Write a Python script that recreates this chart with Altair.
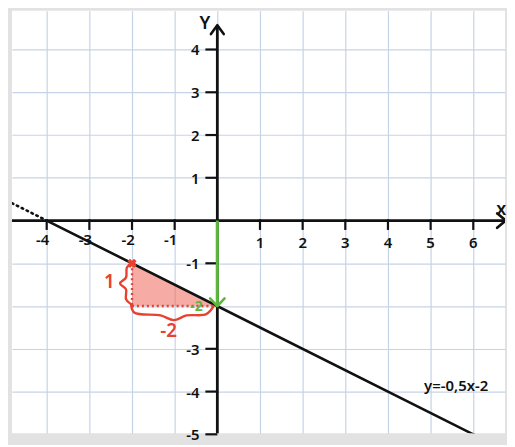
import altair as alt
import pandas as pd

# ---------------- data ----------------
X_DOMAIN = [-4.814, 6.744]
Y_DOMAIN = [-4.977, 4.907]

grid_x = list(range(-4, 7))
grid_y = list(range(-5, 5))

x_tick_values = [-4, -3, -2, -1, 1, 2, 3, 4, 5, 6]
y_tick_values = [4, 3, 2, 1, -1, -3, -4, -5]

# y = -0.5x - 2
line_solid_x = [-4, 6]
line_solid_y = [0, -5]
line_dot_left_x = [-4.814, -4]
line_dot_left_y = [0.407, 0]
line_dot_right_x = [6, 6.6]
line_dot_right_y = [-5, -5.3]
line_label = "y=-0,5x-2"

# slope triangle
tri_x = [-2, 0]
tri_top = [-1, -2]
tri_base = -2
point_A = (-2, -1)
rise_label = "1"
run_label = "-2"
intercept_label = "-2"

brace_left_x = [-2.0, -2.12, -2.14, -2.28, -2.14, -2.14, -2.02]
brace_left_y = [-0.99, -1.10, -1.33, -1.47, -1.61, -1.84, -1.96]
brace_bottom_x = [-2.02, -1.95, -1.33, -1.02, -0.72, -0.26, -0.09]
brace_bottom_y = [-1.98, -2.15, -2.22, -2.33, -2.22, -2.19, -2.01]

# axes furniture
x_axis_end = 6.74
y_axis_end = 4.55
x_arrow_x = [6.56, 6.76, 6.56]
x_arrow_y = [0.17, 0, -0.17]
y_arrow_x = [-0.15, 0, 0.15]
y_arrow_y = [4.36, 4.57, 4.36]
green_arrow_x = [-0.17, 0, 0.17]
green_arrow_y = [-1.82, -2, -1.82]

BLACK = "#111111"
RED = "#e8412f"
GREEN = "#5cb83c"
GRID = "#c6d3e6"
FONT = "Noto Sans"

# ---------------- scales ----------------
xs = alt.Scale(domain=X_DOMAIN, nice=False, zero=False)
ys = alt.Scale(domain=Y_DOMAIN, nice=False, zero=False)
x_axis = alt.Axis(values=grid_x, grid=True, gridColor=GRID, gridWidth=1.2,
                  labels=False, ticks=False, domain=False, title=None)
y_axis = alt.Axis(values=grid_y, grid=True, gridColor=GRID, gridWidth=1.2,
                  labels=False, ticks=False, domain=False, title=None)


def X(f="x"):
    return alt.X(f"{f}:Q", scale=xs, axis=x_axis)


def Y(f="y"):
    return alt.Y(f"{f}:Q", scale=ys, axis=y_axis)


def poly(xv, yv, width, color, dash=None, interp="linear"):
    df = pd.DataFrame({"x": xv, "y": yv, "o": list(range(len(xv)))})
    kw = dict(color=color, strokeWidth=width, interpolate=interp,
              strokeCap="round", strokeJoin="round", clip=True)
    if dash:
        kw["strokeDash"] = dash
    return alt.Chart(df).mark_line(**kw).encode(x=X(), y=Y(), order="o:Q")


# triangle fill
tri = alt.Chart(pd.DataFrame({"x": tri_x, "y": tri_top, "y2": [tri_base] * 2})).mark_area(
    color="#ee5a4a", opacity=0.5
).encode(x=X(), y=Y(), y2="y2:Q")

# axes
axes_rules = alt.Chart(pd.DataFrame({
    "x": [X_DOMAIN[0], 0], "x2": [x_axis_end, 0],
    "y": [0, Y_DOMAIN[0]], "y2": [0, y_axis_end],
})).mark_rule(color=BLACK, strokeWidth=2.8).encode(x=X(), x2="x2:Q", y=Y(), y2="y2:Q")
x_arrow = poly(x_arrow_x, x_arrow_y, 2.6, BLACK)
y_arrow = poly(y_arrow_x, y_arrow_y, 2.6, BLACK)

x_ticks = alt.Chart(pd.DataFrame({"x": x_tick_values})).mark_rule(
    color=BLACK, strokeWidth=2.2).encode(x=X(), y=alt.datum(0.03, scale=ys), y2=alt.datum(-0.22))
y_ticks = alt.Chart(pd.DataFrame({"y": y_tick_values})).mark_rule(
    color=BLACK, strokeWidth=2.2).encode(y=Y(), x=alt.datum(-0.28, scale=xs), x2=alt.datum(0))

neg_x = [v for v in x_tick_values if v < 0]
pos_x = [v for v in x_tick_values if v > 0]
x_lab_neg = alt.Chart(pd.DataFrame({"x": neg_x, "t": [str(v) for v in neg_x]})).mark_text(
    font=FONT, fontSize=15, fontWeight=600, color=BLACK, dx=-4, baseline="middle").encode(
    x=X(), y=alt.datum(-0.46, scale=ys), text="t:N")
x_lab_pos = alt.Chart(pd.DataFrame({"x": pos_x, "t": [str(v) for v in pos_x]})).mark_text(
    font=FONT, fontSize=15, fontWeight=600, color=BLACK, baseline="middle").encode(
    x=X(), y=alt.datum(-0.52, scale=ys), text="t:N")
y_lab = alt.Chart(pd.DataFrame({"y": y_tick_values, "t": [str(v) for v in y_tick_values]})).mark_text(
    font=FONT, fontSize=15, fontWeight=600, color=BLACK, align="right", baseline="middle", dy=1).encode(
    y=Y(), x=alt.datum(-0.42, scale=xs), text="t:N")

axis_titles = alt.Chart(pd.DataFrame({"x": [-0.28, 6.68], "y": [4.6, 0.24], "t": ["Y", "x"]})).mark_text(
    font=FONT, fontSize=18, fontWeight=600, color=BLACK, align="left", dx=-6).encode(
    x=X(), y=Y(), text="t:N")

# function line
line_solid = poly(line_solid_x, line_solid_y, 2.6, BLACK)
line_dl = poly(line_dot_left_x, line_dot_left_y, 2.6, BLACK, dash=[1.5, 4])
line_dr = poly(line_dot_right_x, line_dot_right_y, 2.6, BLACK, dash=[1.5, 4])
line_text = alt.Chart(pd.DataFrame({"x": [5.6], "y": [-3.86], "t": [line_label]})).mark_text(
    font=FONT, fontSize=15, fontWeight=600, color=BLACK).encode(x=X(), y=Y(), text="t:N")

# red annotations
red_dots = alt.Chart(pd.DataFrame({
    "x": [-2, -2], "x2": [-2, 0], "y": [-1, -2], "y2": [-2, -2]
})).mark_rule(color=RED, strokeWidth=2.4, strokeDash=[2, 3]).encode(
    x=X(), x2="x2:Q", y=Y(), y2="y2:Q")
red_cross = alt.Chart(pd.DataFrame({"x": [point_A[0]], "y": [point_A[1]]})).mark_point(
    shape="cross", angle=45, size=90, filled=True, color=RED, opacity=1).encode(x=X(), y=Y())
brace_l = poly(brace_left_x, brace_left_y, 2.4, RED, interp="catmull-rom")
brace_b = poly(brace_bottom_x, brace_bottom_y, 2.4, RED, interp="catmull-rom")
red_text = alt.Chart(pd.DataFrame({"x": [-2.53, -1.14], "y": [-1.45, -2.59],
                                   "t": [rise_label, run_label]})).mark_text(
    font=FONT, fontSize=19, fontWeight=600, color=RED).encode(x=X(), y=Y(), text="t:N")

# green annotations
green_rule = alt.Chart(pd.DataFrame({"x": [0], "y": [0], "y2": [-2]})).mark_rule(
    color=GREEN, strokeWidth=3).encode(x=X(), y=Y(), y2="y2:Q")
green_arrow = poly(green_arrow_x, green_arrow_y, 2.6, GREEN)
green_text = alt.Chart(pd.DataFrame({"x": [-0.49], "y": [-2.02], "t": [intercept_label]})).mark_text(
    font=FONT, fontSize=14, fontWeight="bold", color=GREEN).encode(x=X(), y=Y(), text="t:N")

chart = alt.layer(
    tri, axes_rules, x_arrow, y_arrow, x_ticks, y_ticks, x_lab_neg, x_lab_pos, y_lab, axis_titles,
    line_dl, line_dr, line_solid, line_text,
    red_dots, brace_l, brace_b, red_cross, red_text,
    green_rule, green_arrow, green_text,
).properties(
    width=497, height=426,
    background="#e2e2e2",
    padding={"left": 2, "top": 1, "right": 0, "bottom": 0},
).configure_view(stroke=None, fill="white")

chart.save("out.html", embed_options={"renderer": "svg", "actions": False})
